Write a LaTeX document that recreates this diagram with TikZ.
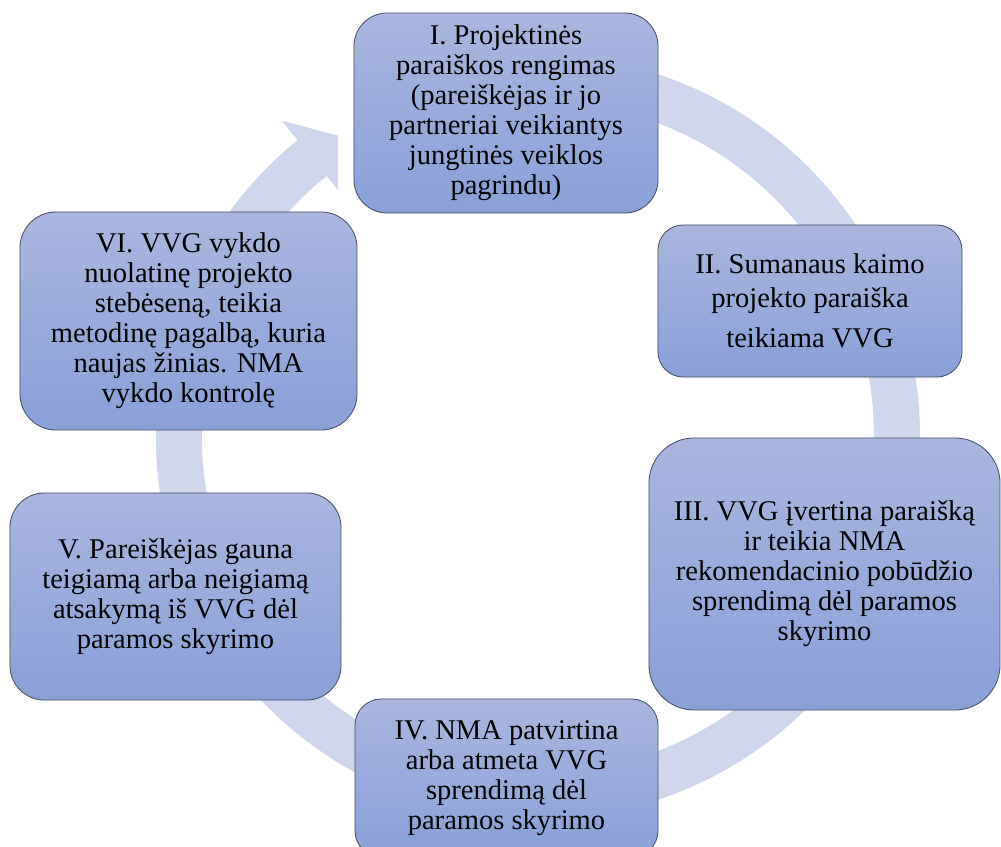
\documentclass[tikz,border=0pt]{standalone}
\usepackage{fontspec}
\setmainfont{Liberation Serif}
\definecolor{ringblue}{RGB}{208,214,236}
\definecolor{boxtop}{RGB}{170,182,223}
\definecolor{boxbottom}{RGB}{136,160,215}
\definecolor{boxline}{RGB}{72,80,104}

\begin{document}
\begin{tikzpicture}[x=0.025cm,y=-0.025cm,
		main node/.style={rectangle,draw=boxline,line width=0.6pt,top color=boxtop,bottom color=boxbottom,
			align=center,inner sep=0pt,font=\fontsize{20.3}{21.3}\selectfont},
		ring arrow/.style={draw=ringblue,line width=1.15cm}]
		
		\clip (0,0) rectangle (1001,847);
		
		% ring with arrow head
		\begin{scope}[shift={(538,437)}]
		\draw[ring arrow] (-80:359) arc[start angle=-80, end angle=231, radius=359];
		\begin{scope}
		\clip (-538,-437) rectangle (-200,410);
		\fill[ringblue] (229:382) -- (231:382) -- (231:407) -- (236.8:359) -- (231:311) -- (231:336) -- (229:336) -- cycle;
		\end{scope}
		\end{scope}
		
		\node[main node,minimum width=7.6cm,minimum height=5cm,rounded corners=0.83cm] (1) at (506,113)
		{I. Projektinės\\paraiškos rengimas\\(pareiškėjas ir jo\\partneriai veikiantys\\jungtinės veiklos\\pagrindu)};
		\node[main node,minimum width=7.6cm,minimum height=3.8cm,rounded corners=0.63cm] (2) at (810,301)
		{II. Sumanaus kaimo\\[0.1cm]projekto paraiška\\[0.25cm]teikiama VVG};
		\node[main node,minimum width=8.775cm,minimum height=6.8cm,rounded corners=1.13cm] (3) at (824.5,574)
		{III. VVG įvertina paraišką\\ir teikia NMA\\rekomendacinio pobūdžio\\sprendimą dėl paramos\\skyrimo};
		\node[main node,minimum width=7.575cm,minimum height=3.95cm,rounded corners=0.66cm] (4) at (506.5,778)
		{IV. NMA patvirtina\\arba atmeta VVG\\sprendimą dėl\\paramos skyrimo};
		\node[main node,minimum width=8.275cm,minimum height=5.175cm,rounded corners=0.86cm] (5) at (175.5,596.5)
		{V. Pareiškėjas gauna\\teigiamą arba neigiamą\\atsakymą iš VVG dėl\\paramos skyrimo};
		\node[main node,minimum width=8.425cm,minimum height=5.45cm,rounded corners=0.9cm] (6) at (188.5,321)
		{VI. VVG vykdo\\nuolatinę projekto\\stebėseną, teikia\\metodinę pagalbą, kuria\\naujas žinias. NMA\\vykdo kontrolę};
\end{tikzpicture}
\end{document}
